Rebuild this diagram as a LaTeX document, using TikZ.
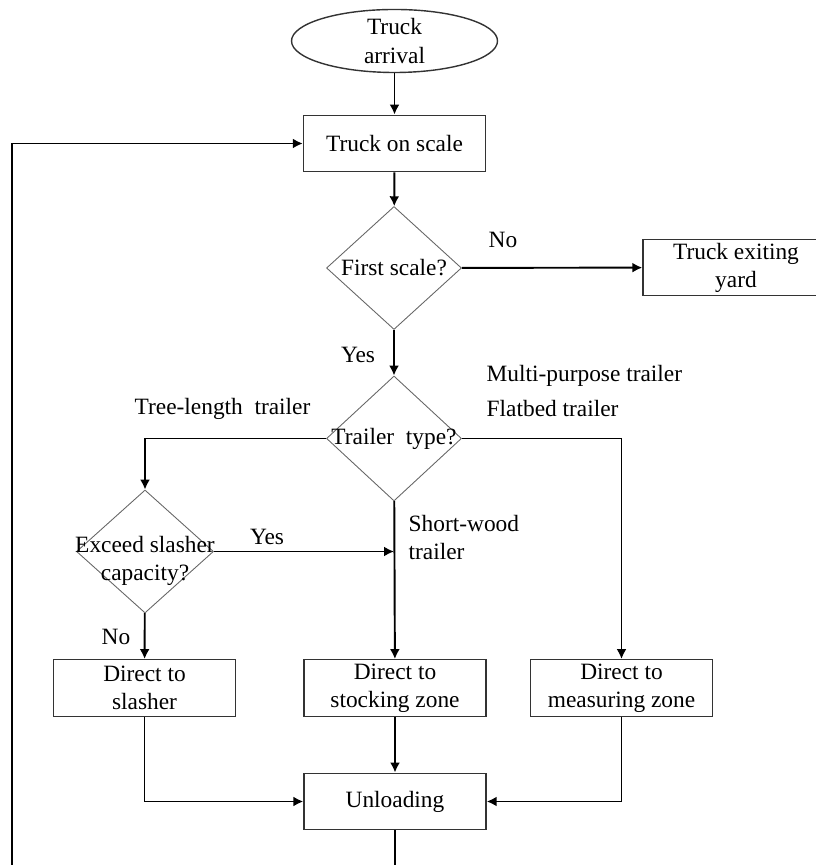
\documentclass[tikz,border=0pt]{standalone}
\usepackage{fontspec}
\setmainfont{Liberation Serif}
\usetikzlibrary{shapes.geometric,arrows.meta}

\begin{document}
\begin{tikzpicture}[
  >={Latex[length=2mm,width=2mm]},
  font=\fontsize{13.3}{16}\selectfont,
  mybox/.style={
    rectangle,
    draw=black!80,
    line width=0.8pt,
    minimum width=3.64cm,
    minimum height=1.13cm,
    inner sep=1pt,
    align=center
  },
  mydiam/.style={
    diamond,
    draw=black!60,
    line width=0.5pt,
    minimum width=2.7cm,
    minimum height=2.46cm,
    inner sep=0pt
  },
  myline/.style={line width=1.1pt}
]
\useasboundingbox (0,0) rectangle (16.32,17.30);
\node[ellipse,draw=black!80,line width=0.8pt,minimum width=4.12cm,minimum height=1.12cm,inner sep=0pt,align=center] (arrival) at (7.89,16.48) {Truck\\arrival};
\node[mybox] (scale) at (7.89,14.43) {Truck on scale};
\node[mydiam,label={center:First scale?}] (first) at (7.88,11.94) {};
\node[mybox,minimum width=3.72cm] (exit) at (14.72,11.95) {Truck exiting\\yard};
\node[mydiam,minimum height=2.5cm,label={center:Trailer\ \ type?}] (type) at (7.88,8.53) {};
\node[mydiam,minimum width=2.74cm,label={[align=center,yshift=-0.18cm]center:Exceed slasher\\capacity?}] (exceed) at (2.90,6.27) {};
\node[mybox] (slasher) at (2.89,3.54) {Direct to\\slasher};
\node[mybox] (stocking) at (7.90,3.54) {Direct to\\stocking zone};
\node[mybox] (measuring) at (12.43,3.54) {Direct to\\measuring zone};
\node[mybox] (unload) at (7.90,1.27) {Unloading};
\node (no1) at (10.06,12.5) {No};
\node (yes1) at (7.16,10.2) {Yes};
\node[anchor=west] (multi) at (9.61,9.78) {Multi-purpose trailer};
\node[anchor=west] (flat) at (9.61,9.12) {Flatbed trailer};
\node (tree) at (4.45,9.12) {Tree-length\ \ trailer};
\node[anchor=west,align=left] (short) at (8.05,6.55) {Short-wood\\trailer};
\node (yes2) at (5.34,6.56) {Yes};
\node (no2) at (2.32,4.56) {No};
\coordinate (loop) at (0.24,-0.3);
\draw[myline,->] (arrival) -- (scale);
\draw[myline,->] (scale) -- (first);
\draw[myline,->] (first) -- (exit);
\draw[myline,->] (first) -- (type);
\draw[myline,->] (type.west) -| (exceed.north);
\draw[myline,->] (type.east) -| (measuring.north);
\draw[myline,->] (type) -- (stocking);
\draw[myline,->] (exceed.east) -- (exceed.east -| type.south);
\draw[myline,->] (exceed) -- (slasher);
\draw[myline,->] (slasher.south) |- (unload.west);
\draw[myline,->] (measuring.south) |- (unload.east);
\draw[myline,->] (stocking) -- (unload);
\draw[myline,->] (unload.south) |- (loop) |- (scale.west);
\end{tikzpicture}
\end{document}
